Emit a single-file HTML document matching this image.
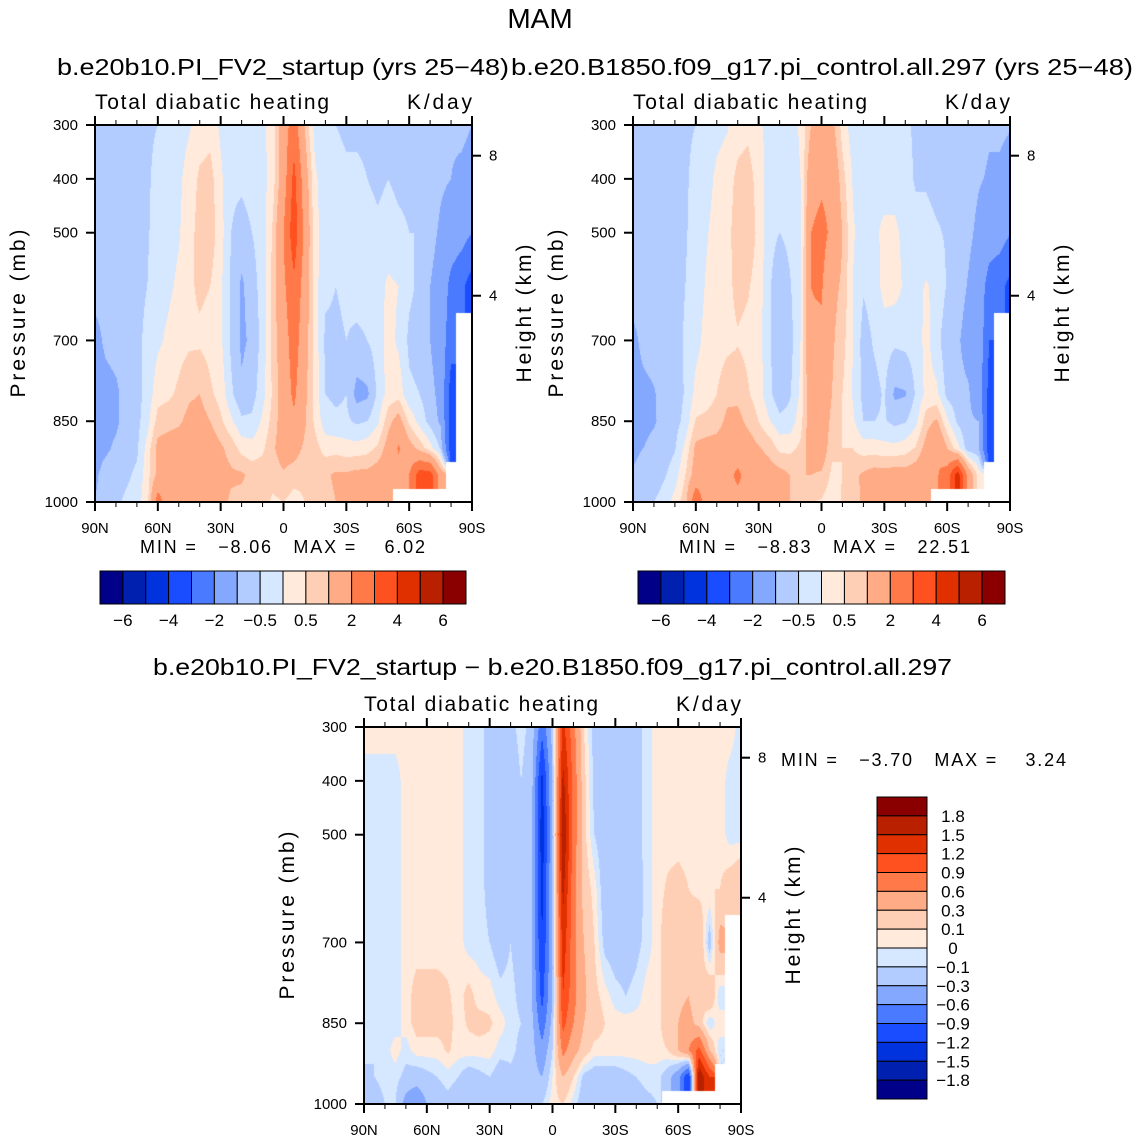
<!DOCTYPE html>
<html><head><meta charset="utf-8">
<style>
html,body{margin:0;padding:0;background:#fff;}
#wrap{position:relative;width:1136px;height:1140px;overflow:hidden;font-family:"Liberation Sans",sans-serif;}
canvas{position:absolute;}
svg{position:absolute;left:0;top:0;}
text{font-family:"Liberation Sans",sans-serif;fill:#000;}
</style></head>
<body>
<div id="wrap">
<canvas id="c1" width="377" height="377" style="left:95px;top:125px"></canvas>
<canvas id="c2" width="377" height="377" style="left:633px;top:125px"></canvas>
<canvas id="c3" width="377" height="377" style="left:364px;top:727px"></canvas>
<svg id="ov" width="1136" height="1140" xmlns="http://www.w3.org/2000/svg">
<text x="540" y="28" font-size="28" text-anchor="middle">MAM</text>
<text x="57" y="75" font-size="23" textLength="452" lengthAdjust="spacingAndGlyphs">b.e20b10.PI_FV2_startup (yrs 25−48)</text>
<text x="511" y="75" font-size="23" textLength="622" lengthAdjust="spacingAndGlyphs">b.e20.B1850.f09_g17.pi_control.all.297 (yrs 25−48)</text>
<text x="153" y="675" font-size="23" textLength="799" lengthAdjust="spacingAndGlyphs">b.e20b10.PI_FV2_startup − b.e20.B1850.f09_g17.pi_control.all.297</text>
<text x="140" y="553" font-size="18" textLength="285" xml:space="preserve">MIN =   −8.06   MAX =    6.02</text>
<text x="679" y="553" font-size="18" textLength="291" xml:space="preserve">MIN =   −8.83   MAX =   22.51</text>
<text x="781" y="766" font-size="18" textLength="285" xml:space="preserve">MIN =   −3.70   MAX =    3.24</text>
</svg>
</div>
<script>
// ---------- data ----------
const lats = [90,85,80,75,70,65,60,55,50,45,40,35,30,25,20,15,10,5,0,-5,-10,-15,-20,-25,-30,-35,-40,-45,-50,-55,-60,-65,-70,-75,-80,-85,-90];
const pLevels = [300,400,500,600,700,800,850,900,950,1000];
const N = NaN;
const levels1 = [-6,-5,-4,-3,-2,-1,-0.5,0,0.5,1,2,3,4,5,6];
const levels3 = [-1.8,-1.5,-1.2,-0.9,-0.6,-0.3,-0.1,0,0.1,0.3,0.6,0.9,1.2,1.5,1.8];
const palette = ["#000088","#0020b0","#0033dd","#1a4dff","#4a7aff","#85a8ff","#b3ccff","#d6e8ff","#ffeadb","#ffcfb5","#ffab85","#ff7a48","#ff5020","#e03000","#b82000","#8a0000"];
const xTickLabels = ["90N","60N","30N","0","30S","60S","90S"];
const xTickLats = [90,60,30,0,-30,-60,-90];
const yTickLabels = ["300","400","500","700","850","1000"];
const yTickVals = [300,400,500,700,850,1000];
const kmTickLabels = ["8","4"];
const kmTickP = [357,617];
const cbLabels1 = ["−6","−4","−2","−0.5","0.5","2","4","6"];
const cbLabels3 = ["1.8","1.5","1.2","0.9","0.6","0.3","0.1","0","−0.1","−0.3","−0.6","−0.9","−1.2","−1.5","−1.8"];

const field1 = [
[-0.8,-0.8,-0.8,-0.8,-1.2,-1.3,-1.3,-1.2,-1.1,-1.0],
[-0.8,-0.8,-0.8,-0.8,-0.9,-1.2,-1.2,-1.1,-0.8,-0.7],
[-0.7,-0.7,-0.7,-0.7,-0.8,-1.1,-1.1,-0.9,-0.7,-0.6],
[-0.6,-0.6,-0.6,-0.6,-0.8,-0.8,-0.8,-0.7,-0.6,-0.4],
[-0.6,-0.6,-0.6,-0.6,-0.6,-0.7,-0.65,-0.6,-0.4,-0.2],
[-0.55,-0.55,-0.55,-0.5,-0.4,-0.3,-0.2,0.2,0.3,0.3],
[-0.5,-0.4,-0.3,-0.2,-0.1,0.3,0.7,1.2,1.2,2.5],
[-0.3,-0.3,-0.2,-0.1,0.1,0.4,0.8,1.3,1.5,1.3],
[-0.2,-0.1,-0.05,0.1,0.3,0.6,0.9,1.4,1.5,1.3],
[-0.05,0.2,0.3,0.4,0.4,0.9,1.2,1.5,1.6,1.3],
[0.2,0.6,0.7,0.6,0.4,1.0,1.3,1.5,1.8,1.4],
[0.3,0.7,0.8,0.5,0.3,0.6,1.0,1.4,1.5,1.3],
[-0.1,0.1,0.2,0.1,0.1,0.3,0.6,1.1,1.2,1.2],
[-0.3,-0.4,-0.5,-0.6,-0.6,-0.4,0.1,0.8,1.1,0.9],
[-0.3,-0.4,-0.7,-1.1,-1.1,-0.9,-0.4,0.3,1.1,0.8],
[-0.2,-0.3,-0.5,-0.7,-0.9,-0.7,-0.4,0.2,0.8,0.8],
[-0.1,-0.2,-0.3,-0.3,-0.3,-0.2,0.1,0.4,0.8,0.7],
[0.2,0.3,0.6,0.7,0.7,0.6,0.7,0.9,0.7,0.4],
[1.5,1.5,2.0,1.8,1.5,1.4,1.4,1.4,0.9,0.5],
[2.5,3.3,3.6,2.8,2.5,2.2,1.8,1.3,0.7,0.3],
[1.0,1.5,1.8,1.6,1.4,1.2,1.1,0.9,0.6,0.5],
[-0.2,0.1,0.2,0.2,0.3,0.3,0.4,0.7,0.7,0.6],
[-0.4,-0.3,-0.3,-0.4,-0.6,-0.5,-0.3,0.3,0.9,0.8],
[-0.5,-0.3,-0.3,-0.5,-0.6,-0.6,-0.4,0.3,1.1,1.0],
[-0.6,-0.4,-0.3,-0.4,-0.5,-0.5,-0.4,0.2,1.1,1.1],
[-0.6,-0.4,-0.3,-0.3,-0.6,-1.2,-0.6,0.2,1.2,1.2],
[-0.6,-0.5,-0.3,-0.3,-0.5,-1.1,-0.5,0.3,1.2,1.3],
[-0.6,-0.6,-0.4,-0.2,-0.3,-0.4,-0.1,0.6,1.4,1.4],
[-0.6,-0.5,-0.3,0.1,0.2,0.2,0.8,1.3,1.6,1.2],
[-0.7,-0.6,-0.4,0.0,-0.1,0.3,1.3,2.1,1.7,N],
[-0.7,-0.6,-0.5,-0.4,-0.6,-0.4,0.4,1.3,2.0,N],
[-0.7,-0.6,-0.5,-0.6,-0.7,-0.5,-0.2,0.8,3.5,N],
[-0.8,-0.7,-0.8,-1.0,-1.0,-0.8,-0.7,0.2,3.5,N],
[-0.8,-0.9,-1.1,-1.3,-1.4,-1.2,-1.1,-0.6,1.5,N],
[-0.9,-1.0,-1.4,-2.3,-2.6,-3.5,-3.5,-3.5,N,N],
[-0.8,-1.2,-1.6,-2.8,N,N,N,N,N,N],
[-1.0,-1.4,-2.0,-3.5,N,N,N,N,N,N]
];
const field2 = [
[-0.85,-0.75,-0.75,-0.75,-1.15,-1.25,-1.25,-1.15,-0.95,-0.8],
[-0.85,-0.75,-0.75,-0.75,-0.85,-1.15,-1.15,-1.0,-0.7,-0.5],
[-0.75,-0.65,-0.65,-0.65,-0.75,-1.05,-1.05,-0.85,-0.75,-0.5],
[-0.65,-0.55,-0.55,-0.55,-0.75,-0.75,-0.85,-0.75,-0.55,-0.3],
[-0.65,-0.65,-0.65,-0.65,-0.65,-0.75,-0.7,-0.55,-0.25,0.2],
[-0.55,-0.55,-0.55,-0.5,-0.45,-0.45,-0.35,0.15,0.5,0.8],
[-0.5,-0.4,-0.3,-0.25,-0.15,0.15,0.55,1.15,1.35,2.8],
[-0.3,-0.2,-0.05,0.05,0.15,0.25,0.65,1.25,1.6,1.5],
[-0.15,0.1,0.2,0.25,0.25,0.5,0.75,1.3,1.55,1.45],
[-0.05,0.25,0.35,0.35,0.35,0.85,1.15,1.45,1.7,1.5],
[0.25,0.65,0.75,0.65,0.45,0.85,1.2,1.45,2.2,1.7],
[0.35,0.75,0.85,0.55,0.35,0.55,0.85,1.35,1.65,1.6],
[0.05,0.25,0.35,0.25,0.2,0.25,0.5,1.05,1.3,1.4],
[-0.1,-0.2,-0.3,-0.4,-0.4,-0.35,0.05,0.85,1.3,1.2],
[-0.15,-0.2,-0.5,-0.95,-1.0,-0.85,-0.35,0.35,1.25,1.0],
[-0.15,-0.2,-0.35,-0.55,-0.7,-0.55,-0.3,0.35,1.0,1.0],
[0.05,0.0,-0.1,-0.05,0.0,0.1,0.3,0.6,1.0,0.85],
[1.0,1.6,2.0,2.0,1.9,1.6,1.5,1.4,1.0,0.5],
[1.7,1.8,2.3,2.1,1.8,1.7,1.6,1.5,0.9,0.45],
[1.2,1.7,1.8,1.2,1.1,1.0,0.8,0.6,0.4,0.2],
[0.3,0.7,1.0,0.9,0.7,0.5,0.5,0.5,0.5,0.55],
[-0.3,-0.05,0.05,0.0,0.0,-0.05,0.1,0.5,0.85,0.8],
[-0.25,-0.15,-0.2,-0.45,-0.7,-0.65,-0.5,0.25,1.1,1.1],
[-0.3,-0.1,-0.1,-0.3,-0.45,-0.65,-0.5,0.25,1.3,1.3],
[-0.4,-0.2,0.1,0.2,-0.3,-0.45,-0.45,0.15,1.3,1.35],
[-0.4,-0.2,0.1,0.2,-0.4,-1.1,-0.65,0.15,1.35,1.4],
[-0.45,-0.35,-0.15,-0.1,-0.35,-1.05,-0.55,0.25,1.3,1.5],
[-0.55,-0.55,-0.35,-0.15,-0.25,-0.45,-0.15,0.55,1.45,1.55],
[-0.65,-0.55,-0.35,0.05,0.15,0.15,0.75,1.25,1.65,1.3],
[-0.75,-0.65,-0.45,-0.12,-0.3,0.1,1.1,2.0,1.9,N],
[-0.75,-0.65,-0.55,-0.55,-0.85,-0.65,0.1,1.0,2.5,N],
[-0.75,-0.65,-0.55,-0.7,-0.9,-0.8,-0.6,0.2,4.5,N],
[-0.85,-0.75,-0.85,-1.05,-1.3,-0.9,-0.9,-0.8,1.7,N],
[-0.85,-0.95,-1.15,-1.4,-1.2,-1.5,-1.0,-0.9,0.3,N],
[-0.95,-1.05,-1.45,-2.4,-3.0,-3.3,-3.5,-3.5,N,N],
[-0.85,-1.15,-1.55,-2.7,N,N,N,N,N,N],
[-0.95,-1.35,-1.95,-3.3,N,N,N,N,N,N]
];
const field3 = [
[0.05,-0.05,-0.05,-0.05,-0.05,-0.05,-0.05,-0.05,-0.15,-0.2],
[0.05,-0.05,-0.05,-0.05,-0.05,-0.05,-0.05,-0.1,-0.1,-0.2],
[0.05,-0.05,-0.05,-0.05,-0.05,-0.05,-0.05,-0.05,-0.05,-0.1],
[0.05,-0.05,-0.05,-0.05,-0.05,-0.05,-0.05,0.05,-0.05,-0.1],
[0.05,0.05,0.05,0.05,0.05,0.05,0.05,-0.05,-0.15,-0.4],
[0.05,0.05,0.05,0.05,0.05,0.15,0.15,0.05,-0.2,-0.5],
[0.05,0.05,0.05,0.05,0.05,0.15,0.15,0.05,-0.15,-0.3],
[0.05,0.05,0.05,0.05,0.05,0.15,0.15,0.05,-0.1,-0.2],
[0.05,0.05,0.05,0.05,0.05,0.12,0.15,0.12,-0.05,-0.15],
[0.05,0.05,0.05,0.05,0.05,0.05,0.05,0.05,-0.1,-0.2],
[-0.05,-0.05,-0.05,-0.05,-0.05,0.15,0.12,0.05,-0.2,-0.3],
[-0.05,-0.05,-0.05,-0.05,-0.05,0.05,0.15,0.05,-0.15,-0.3],
[-0.15,-0.15,-0.15,-0.15,-0.1,0.05,0.12,0.05,-0.1,-0.2],
[-0.2,-0.2,-0.2,-0.2,-0.2,-0.05,0.05,-0.05,-0.2,-0.3],
[-0.15,-0.2,-0.2,-0.15,-0.1,-0.05,-0.05,-0.05,-0.15,-0.2],
[-0.05,-0.1,-0.15,-0.15,-0.2,-0.15,-0.1,-0.15,-0.2,-0.2],
[-0.15,-0.2,-0.2,-0.25,-0.3,-0.3,-0.2,-0.2,-0.2,-0.15],
[-0.8,-1.3,-1.4,-1.3,-1.2,-1.0,-0.8,-0.5,-0.3,-0.1],
[-0.2,-0.3,-0.3,-0.3,-0.3,-0.3,-0.2,-0.1,0.0,0.05],
[1.3,1.6,1.8,1.6,1.4,1.2,1.0,0.7,0.3,0.1],
[0.7,0.8,0.8,0.7,0.7,0.7,0.6,0.4,0.1,-0.05],
[0.1,0.15,0.15,0.2,0.3,0.35,0.3,0.2,-0.15,-0.2],
[-0.15,-0.15,-0.1,0.05,0.1,0.15,0.2,0.05,-0.2,-0.3],
[-0.2,-0.2,-0.2,-0.2,-0.15,0.05,0.1,0.05,-0.2,-0.3],
[-0.2,-0.2,-0.2,-0.2,-0.2,-0.05,0.05,0.05,-0.2,-0.25],
[-0.2,-0.2,-0.2,-0.25,-0.2,-0.1,0.05,0.05,-0.15,-0.2],
[-0.15,-0.15,-0.15,-0.2,-0.15,-0.05,0.05,0.05,-0.1,-0.2],
[-0.05,-0.05,-0.05,-0.05,-0.05,0.05,0.05,0.05,-0.05,-0.15],
[0.05,0.05,0.05,0.05,0.05,0.05,0.05,0.05,-0.05,-0.1],
[0.05,0.05,0.05,0.12,0.2,0.2,0.2,0.1,-0.2,N],
[0.05,0.05,0.05,0.15,0.25,0.25,0.3,0.3,-0.5,N],
[0.05,0.05,0.05,0.1,0.2,0.3,0.4,0.6,-1.2,N],
[0.05,0.05,0.05,0.05,0.3,0.1,0.2,1.0,1.8,N],
[0.05,0.05,0.05,0.1,-0.2,0.3,-0.1,0.3,1.2,N],
[0.05,0.05,0.05,0.1,0.4,-0.1,0.1,-0.1,N,N],
[0.05,-0.05,-0.05,0.2,N,N,N,N,N,N],
[-0.05,-0.05,-0.05,0.3,N,N,N,N,N,N]
];

// ---------- rendering ----------
const W = 377, H = 377;
function xOfLat(lat){ return (90-lat)/180*W; }
function yOfP(p){ return (p-300)/700*H; }
function colorIdx(v, lv){ let k=0; for(const l of lv){ if(v>=l) k++; } return k; }
function hex(c){ return [parseInt(c.slice(1,3),16),parseInt(c.slice(3,5),16),parseInt(c.slice(5,7),16)]; }
const palRGB = palette.map(hex);

function sample(field, lat, p){
  const fi = (90-lat)/5;
  let i0 = Math.min(Math.floor(fi), lats.length-2); const tx = fi - i0;
  let j0 = 0; while(j0<pLevels.length-2 && p>pLevels[j0+1]) j0++;
  const ty = (p-pLevels[j0])/(pLevels[j0+1]-pLevels[j0]);
  const ni = tx<0.5?i0:i0+1, nj = ty<0.5?j0:j0+1;
  if(isNaN(field[ni][nj])) return NaN;
  const c = [[i0,j0,(1-tx)*(1-ty)],[i0+1,j0,tx*(1-ty)],[i0,j0+1,(1-tx)*ty],[i0+1,j0+1,tx*ty]];
  let s=0, w=0;
  for(const [a,b,ww] of c){ const v=field[a][b]; if(!isNaN(v)){ s+=v*ww; w+=ww; } }
  return w>0? s/w : NaN;
}
function render(id, field, lv){
  const cv = document.getElementById(id); const ctx = cv.getContext('2d');
  const img = ctx.createImageData(W,H);
  for(let y=0;y<H;y++){
    const p = 300 + (y+0.5)/H*700;
    for(let x=0;x<W;x++){
      const lat = 90 - (x+0.5)/W*180;
      const v = sample(field, lat, p);
      const o = (y*W+x)*4;
      let rgb = [255,255,255];
      if(!isNaN(v)) rgb = palRGB[colorIdx(v, lv)];
      img.data[o]=rgb[0]; img.data[o+1]=rgb[1]; img.data[o+2]=rgb[2]; img.data[o+3]=255;
    }
  }
  ctx.putImageData(img,0,0);
}
render('c1', field1, levels1);
render('c2', field2, levels1);
render('c3', field3, levels3);

// ---------- axes ----------
const svg = document.getElementById('ov');
const NS = 'http://www.w3.org/2000/svg';
function mk(tag, attrs, parent){ const e=document.createElementNS(NS,tag); for(const k in attrs) e.setAttribute(k,attrs[k]); (parent||svg).appendChild(e); return e; }
function txt(x,y,s,size,anchor,parent){ const t=mk('text',{x:x,y:y,'font-size':size,'text-anchor':anchor||'start'},parent); t.textContent=s; return t; }

function axes(ox, oy, tag){
  const g = mk('g',{});
  
  
  mk('rect',{x:ox,y:oy,width:W,height:H,fill:'none',stroke:'#000','stroke-width':2},g);
  for(let lat=90; lat>=-90; lat-=10){
    const x = ox + xOfLat(lat); const major = (lat%30===0); const L = major?9:5;
    mk('line',{x1:x,y1:oy,x2:x,y2:oy-L,stroke:'#000','stroke-width':major?2:1},g);
    mk('line',{x1:x,y1:oy+H,x2:x,y2:oy+H+L,stroke:'#000','stroke-width':major?2:1},g);
  }
  xTickLats.forEach((lat,i)=>{
    const t = txt(ox+xOfLat(lat), oy+H+31, xTickLabels[i], 15, 'middle', g);
    
    
  });
  yTickVals.forEach((p,i)=>{
    const y = oy + yOfP(p);
    mk('line',{x1:ox,y1:y,x2:ox-9,y2:y,stroke:'#000','stroke-width':2},g);
    const t = txt(ox-17, y+5, yTickLabels[i], 15, 'end', g);
    
    
  });
  kmTickP.forEach((p,i)=>{
    const y = oy + yOfP(p);
    mk('line',{x1:ox+W,y1:y,x2:ox+W+9,y2:y,stroke:'#000','stroke-width':2},g);
    const t = txt(ox+W+17, y+5, kmTickLabels[i], 15, 'start', g);
    
    
  });
  const t1 = txt(ox, oy-16, 'Total diabatic heating', 21, 'start', g);
  t1.setAttribute('textLength', 234);
  
  
  const t2 = txt(ox+W-65, oy-16, 'K/day', 21, 'start', g);
  t2.setAttribute('textLength', 65);
  
  
  const cy = oy + H/2;
  const yl = txt(0,0,'Pressure (mb)', 21, 'middle', g);
  yl.setAttribute('transform', 'translate('+(ox-70)+','+cy+') rotate(-90)');
  yl.setAttribute('textLength', 168);
  
  
  const yr = txt(0,0,'Height (km)', 21, 'middle', g);
  yr.setAttribute('transform', 'translate('+(ox+W+59)+','+cy+') rotate(-90)');
  yr.setAttribute('textLength', 138);
  
  
}
axes(95,125,'panel-1');
axes(633,125,'panel-2');
axes(364,727,'panel-3');

function hbar(x0, y0, w, h, tag){
  const g = mk('g',{});
  
  
  const bw = w/palette.length;
  palette.forEach((c,i)=>{
    const r = mk('rect',{x:x0+i*bw,y:y0,width:bw,height:h,fill:c,stroke:'#000','stroke-width':1},g);
    
    
  });
  cbLabels1.forEach((s,k)=>{
    const t = txt(x0+(2*k+1)*bw, y0+h+22, s, 17, 'middle', g);
    
    
  });
}
hbar(100,571,366,33,'panel-1-colorbar');
hbar(638,571,367,33,'panel-2-colorbar');

(function vbar(){
  const x0=877,y0=797,w=50,h=302;
  const g = mk('g',{});
  
  
  const bh = h/palette.length;
  palette.slice().reverse().forEach((c,i)=>{
    const r = mk('rect',{x:x0,y:y0+i*bh,width:w,height:bh,fill:c,stroke:'#000','stroke-width':1},g);
    
    
  });
  cbLabels3.forEach((s,k)=>{
    const t = txt(953, y0+(k+1)*bh+6, s, 17, 'middle', g);
    
    
  });
})();
</script>
</body></html>
